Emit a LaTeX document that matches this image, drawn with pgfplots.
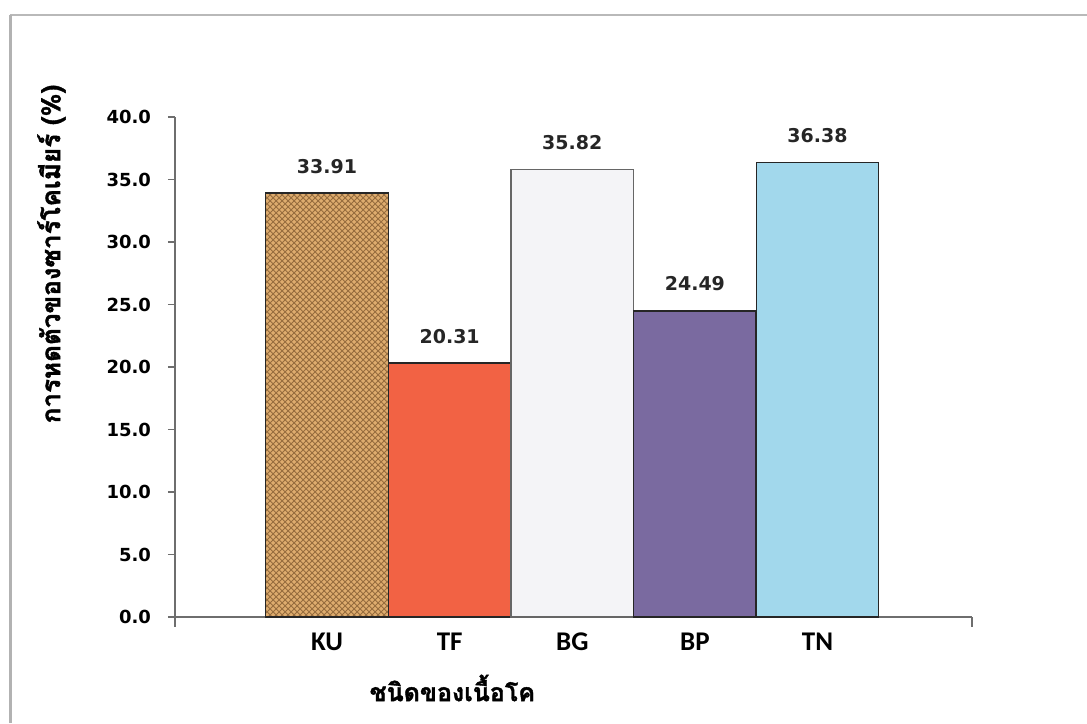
\documentclass[border=0pt]{standalone}
\usepackage{fontspec}
\usepackage{pgfplots}
\pgfplotsset{compat=1.18}
\usetikzlibrary{patterns}
\setmainfont{DejaVu Sans}
\newfontfamily\thaifont[Script=Thai, BoldFeatures={FakeBold=1.5}]{Loma}
\newfontfamily\catfont{Carlito}

\definecolor{kuFill}{RGB}{222,172,110}
\definecolor{kuWeave}{RGB}{150,108,62}
\definecolor{tfFill}{RGB}{242,98,68}
\definecolor{bgFill}{RGB}{244,244,247}
\definecolor{bpFill}{RGB}{122,106,160}
\definecolor{tnFill}{RGB}{162,216,236}
\definecolor{axisGray}{RGB}{110,110,110}

\pgfplotsset{
  valbar/.style={
    ybar, bar width=61.25pt, bar shift=0pt, draw=black!85, line width=0.7pt,
    nodes near coords={\pgfmathprintnumber[fixed,precision=2,zerofill]{\pgfplotspointmeta}},
    nodes near coords style={anchor=south, inner sep=0pt, yshift=9.5pt,
      font=\bfseries\fontsize{9.5}{10}\selectfont, text=black!85},
  },
}

\begin{document}
\begin{tikzpicture}
\useasboundingbox (0pt,0pt) rectangle (543.5pt,361.5pt);
% page frame
\draw[gray!55, line width=0.8pt] (5pt,354pt) -- (543.5pt,354pt);
\draw[gray!60, line width=1.5pt] (5pt,0pt) -- (5pt,354pt);
\begin{axis}[
  at={(87.5pt,53pt)}, anchor=south west,
  scale only axis, width=398.5pt, height=250pt,
  xmin=-1.24, xmax=5.26, ymin=0, ymax=40,
  axis lines*=left,
  axis line style={draw=axisGray, line width=0.9pt},
  ytick={0,5,...,40},
  yticklabel style={/pgf/number format/fixed, /pgf/number format/precision=1,
    /pgf/number format/fixed zerofill,
    font=\bfseries\fontsize{9}{9}\selectfont, xshift=-5pt},
  /pgf/number format/assume math mode=true,
  ytick style={draw=axisGray, line width=0.9pt},
  tick align=outside, major tick length=3.5pt,
  xtick={0,...,4},
  xticklabels={KU,TF,BG,BP,TN},
  xtick style={draw=none},
  xticklabel style={font=\catfont\bfseries\fontsize{13.5}{13.5}\selectfont, yshift=-1pt},
  clip=false,
]
\addplot[valbar, fill=kuFill, postaction={pattern=crosshatch, pattern color=kuWeave}] coordinates {(0,33.91)};
\addplot[valbar, fill=tfFill] coordinates {(1,20.31)};
\addplot[valbar, fill=bgFill, draw=black!60] coordinates {(2,35.82)};
\addplot[valbar, fill=bpFill] coordinates {(3,24.49)};
\addplot[valbar, fill=tnFill] coordinates {(4,36.38)};
% end ticks on the category axis
\draw[axisGray, line width=0.9pt] (rel axis cs:0,0) -- ([yshift=-5pt]rel axis cs:0,0);
\draw[axisGray, line width=0.9pt] (rel axis cs:1,0) -- ([yshift=-5pt]rel axis cs:1,0);
\node[rotate=90, font=\thaifont\bfseries\fontsize{13}{13}\selectfont]
  at (axis description cs:-0.155,0.726) {การหดตัวของซาร์โคเมียร์ (\%)};
\node[font=\thaifont\bfseries\fontsize{12.5}{12.5}\selectfont]
  at (axis description cs:0.348,-0.142) {ชนิดของเนื้อโค};
\end{axis}
\end{tikzpicture}
\end{document}
